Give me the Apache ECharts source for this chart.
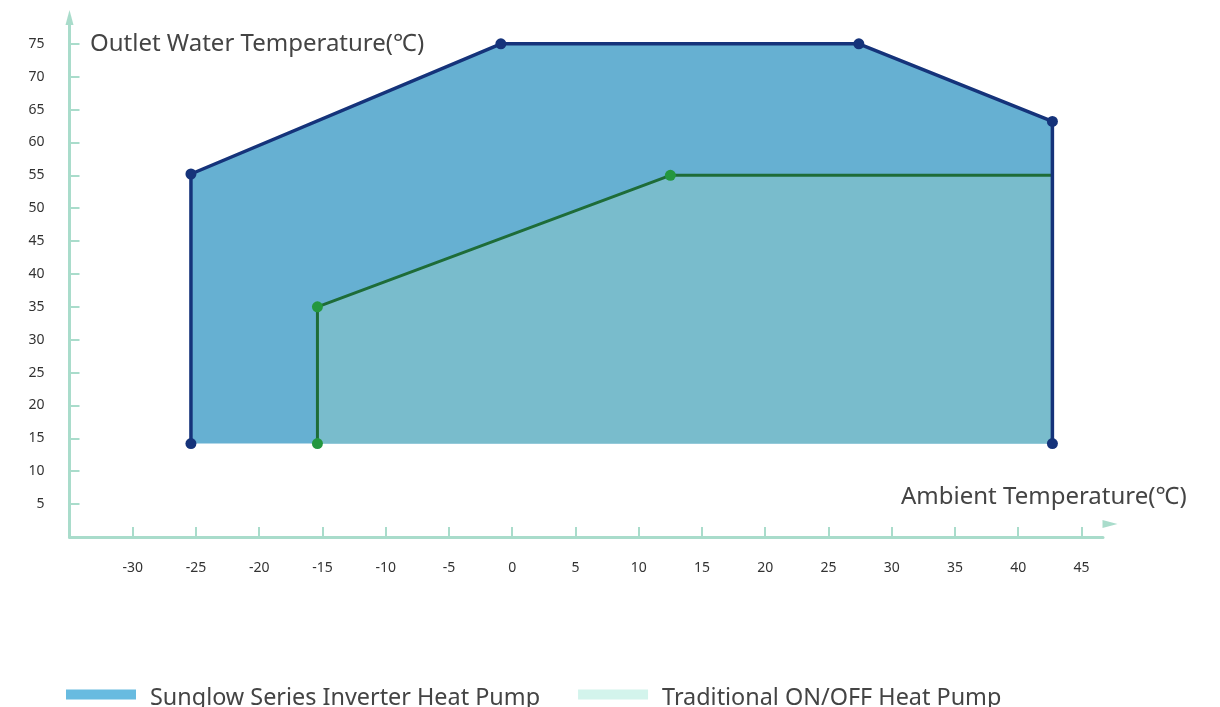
<!DOCTYPE html>
<html lang="en">
<head>
    <meta charset="UTF-8">
    <title>Heat pump operating range</title>
    <script src="https://cdn.jsdelivr.net/npm/echarts@6.0.0/dist/echarts.min.js"></script>
    <style>
        html, body { margin: 0; padding: 0; background: #fff; }
        #chart { width: 1220px; height: 707px; }
    </style>
</head>
<body>
<div id="chart"></div>
<script>
    // envelope corners (ambient °C, outlet °C)
    var sunglowX = [-25.4, -25.4, -0.9, 27.4, 42.7, 42.7];
    var sunglowY = [14.2, 55.2, 75, 75, 63.2, 14.2];
    var traditionalX = [-15.4, -15.4, 12.5, 42.7];
    var traditionalY = [14.2, 35, 55, 55];
    var baseTemp = 14.2;
    var xTicks = [-30, -25, -20, -15, -10, -5, 0, 5, 10, 15, 20, 25, 30, 35, 40, 45];
    var yTicks = [5, 10, 15, 20, 25, 30, 35, 40, 45, 50, 55, 60, 65, 70, 75];
    var names = ['Sunglow Series Inverter Heat Pump', 'Traditional ON/OFF Heat Pump'];

    var axisColor = '#a9dccb';
    var font = '"Noto Sans", sans-serif';

    function pairs(xs, ys) {
        return xs.map(function (x, i) { return [x, ys[i]]; });
    }
    var tradPoints = pairs(traditionalX, traditionalY);
    // last corner of the traditional line has no dot
    tradPoints[tradPoints.length - 1] = { value: tradPoints[tradPoints.length - 1], symbol: 'none' };

    var chart = echarts.init(document.getElementById('chart'));
    var option = {
        animation: false,
        title: [
            { text: 'Outlet Water Temperature(℃)', left: 90, top: 32, padding: 0,
              textStyle: { fontFamily: font, fontSize: 24, fontWeight: 'normal', color: '#444' } },
            { text: 'Ambient Temperature(℃)', left: 901, top: 485, padding: 0,
              textStyle: { fontFamily: font, fontSize: 24, fontWeight: 'normal', color: '#444' } }
        ],
        legend: {
            left: 66, top: 687, padding: 0,
            // bar sits in the top part of the icon box so the text lands a bit lower
            icon: 'path://M0,0 h70 v10 h-70 Z M0,18', itemWidth: 70, itemHeight: 18, itemGap: 38,
            itemStyle: { borderWidth: 0 },
            textStyle: { fontFamily: font, fontSize: 23.4, color: '#444', padding: [0, 0, 0, 9] },
            data: [
                { name: names[0], itemStyle: { color: '#68bbe0' } },
                { name: names[1], itemStyle: { color: '#d3f4ec' } }
            ]
        },
        grid: { left: 69.5, right: 117, top: 17.5, bottom: 170 },
        xAxis: [{
            type: 'value', min: -35, max: 46.7,
            splitLine: { show: false },
            axisLine: { onZero: false, lineStyle: { color: axisColor, width: 3 } },
            axisTick: { inside: true, length: 10, customValues: xTicks, lineStyle: { color: axisColor, width: 2 } },
            axisLabel: { customValues: xTicks, margin: 24, color: '#333', fontFamily: font, fontSize: 14 }
        }, {
            // only carries the arrow head that sits above the axis end
            type: 'value', min: -35, max: 46.7, position: 'bottom', offset: -13,
            splitLine: { show: false },
            axisLine: { onZero: false, symbol: ['none', 'triangle'], symbolSize: [8, 15], symbolOffset: [0, 7],
                        lineStyle: { color: axisColor, width: 0 } },
            axisTick: { show: false },
            axisLabel: { show: false }
        }],
        yAxis: {
            type: 'value', min: 0, max: 79,
            splitLine: { show: false },
            axisLine: { onZero: false, symbol: ['none', 'triangle'], symbolSize: [8, 15],
                        lineStyle: { color: axisColor, width: 3 } },
            axisTick: { inside: true, length: 10, customValues: yTicks, lineStyle: { color: axisColor, width: 2 } },
            axisLabel: { customValues: yTicks, margin: 25, color: '#333', fontFamily: font, fontSize: 14 }
        },
        series: [{
            name: names[0], type: 'line', data: pairs(sunglowX, sunglowY),
            symbol: 'none', lineStyle: { width: 0 },
            itemStyle: { color: '#68bbe0' },
            areaStyle: { color: '#66b0d2', opacity: 1, origin: baseTemp }
        }, {
            name: names[1], type: 'line', data: pairs(traditionalX, traditionalY),
            symbol: 'none', lineStyle: { width: 0 },
            itemStyle: { color: '#d3f4ec' },
            areaStyle: { color: '#79bccc', opacity: 1, origin: baseTemp }
        }, {
            name: 'traditional-edge', type: 'line', data: tradPoints,
            symbol: 'circle', symbolSize: 11, showAllSymbol: true,
            lineStyle: { color: '#1e6c38', width: 3 },
            itemStyle: { color: '#24973f' }
        }, {
            name: 'sunglow-edge', type: 'line', data: pairs(sunglowX, sunglowY),
            symbol: 'circle', symbolSize: 11, showAllSymbol: true,
            lineStyle: { color: '#15337a', width: 3.5 },
            itemStyle: { color: '#15337a' }
        }]
    };
    chart.setOption(option);
</script>
</body>
</html>
